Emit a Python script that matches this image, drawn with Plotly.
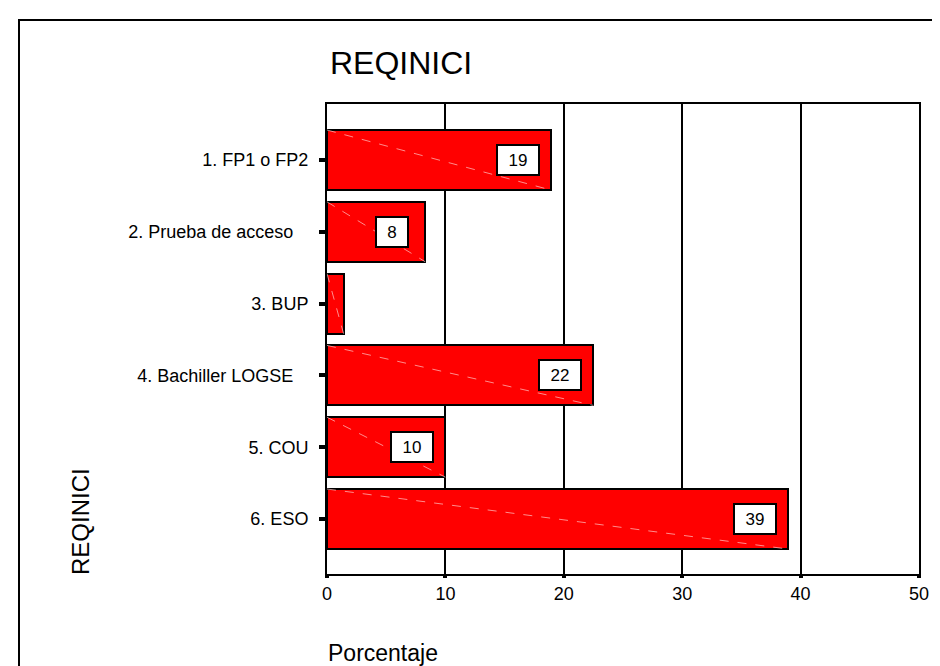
import plotly.graph_objects as go

categories = ["1. FP1 o FP2", "2. Prueba de acceso\u00a0\u00a0\u00a0", "3. BUP",
              "4. Bachiller LOGSE\u00a0\u00a0\u00a0", "5. COU", "6. ESO"]
percentages = [18.9, 8.3, 1.4, 22.5, 10.0, 38.9]
bar_labels = ["19", "8", "", "22", "10", "39"]
x_ticks = [0, 10, 20, 30, 40, 50]

FONT = "Liberation Sans, Arial, Helvetica, sans-serif"
W, H = 940, 666
L, R, T, B = 319, 29, 96, 100
PW, PH = W - L - R, H - T - B
BAR_W = 0.835

def px_to_paper_x(px):
    return (px - L) / PW

def px_to_paper_y(py):
    return (H - B - py) / PH

idx = list(range(len(categories)))

fig = go.Figure()
fig.add_trace(go.Bar(
    x=percentages, y=idx, orientation="h", width=BAR_W,
    marker=dict(color="#ff0000", line=dict(color="black", width=2)),
    hoverinfo="skip", showlegend=False,
))

# faint diagonal rendering artefacts across each bar
for i, v in zip(idx, percentages):
    fig.add_trace(go.Scatter(
        x=[0, v], y=[i - BAR_W / 2, i + BAR_W / 2], mode="lines",
        line=dict(color="rgba(255,200,200,0.7)", width=1, dash="dash"),
        hoverinfo="skip", showlegend=False,
    ))

for i, v, lab in zip(idx, percentages, bar_labels):
    if not lab:
        continue
    fig.add_annotation(
        x=v, y=i, xref="x", yref="y", text=lab, showarrow=False,
        xanchor="center", yanchor="middle", xshift=-33,
        width=40 if len(lab) > 1 else 30, height=28,
        bgcolor="white", bordercolor="black", borderwidth=2, borderpad=0,
        font=dict(family=FONT, size=17, color="black"),
    )

fig.add_annotation(
    x=px_to_paper_x(320), y=px_to_paper_y(55), xref="paper", yref="paper",
    text="REQINICI", showarrow=False, xanchor="left", yanchor="middle",
    font=dict(family=FONT, size=32, color="black"),
)
fig.add_annotation(
    x=px_to_paper_x(72), y=px_to_paper_y(514), xref="paper", yref="paper",
    text="REQINICI", showarrow=False, xanchor="center", yanchor="middle",
    textangle=-90, font=dict(family=FONT, size=24, color="black"),
)
fig.add_annotation(
    x=px_to_paper_x(318), y=px_to_paper_y(645), xref="paper", yref="paper",
    text="Porcentaje", showarrow=False, xanchor="left", yanchor="middle",
    font=dict(family=FONT, size=23, color="black"),
)

# outer frame
fig.add_shape(
    type="rect", xref="paper", yref="paper",
    x0=px_to_paper_x(11), x1=px_to_paper_x(950),
    y0=px_to_paper_y(680), y1=px_to_paper_y(12),
    line=dict(color="black", width=2), fillcolor="rgba(0,0,0,0)", layer="above",
)

fig.update_layout(
    width=W, height=H,
    margin=dict(l=L, r=R, t=T, b=B, pad=0),
    paper_bgcolor="white", plot_bgcolor="white",
    font=dict(family=FONT, size=18, color="black"),
    bargap=0,
)
fig.update_xaxes(
    range=[0, 50], tickvals=x_ticks, ticktext=[str(t) for t in x_ticks],
    showgrid=True, gridcolor="black", gridwidth=2, zeroline=False,
    showline=True, linecolor="black", linewidth=2, mirror=True,
    ticks="outside", ticklen=2, tickwidth=4, tickcolor="black",
    tickfont=dict(family=FONT, size=18, color="black"),
    fixedrange=True,
)
fig.update_yaxes(
    range=[5.766, -0.78], tickvals=idx, ticktext=categories,
    showgrid=False, zeroline=False,
    showline=True, linecolor="black", linewidth=2, mirror=True,
    ticks="outside", ticklen=6, tickwidth=4, tickcolor="black",
    ticklabelstandoff=7,
    tickfont=dict(family=FONT, size=18, color="black"),
    fixedrange=True,
)

fig.write_html("out.html")
